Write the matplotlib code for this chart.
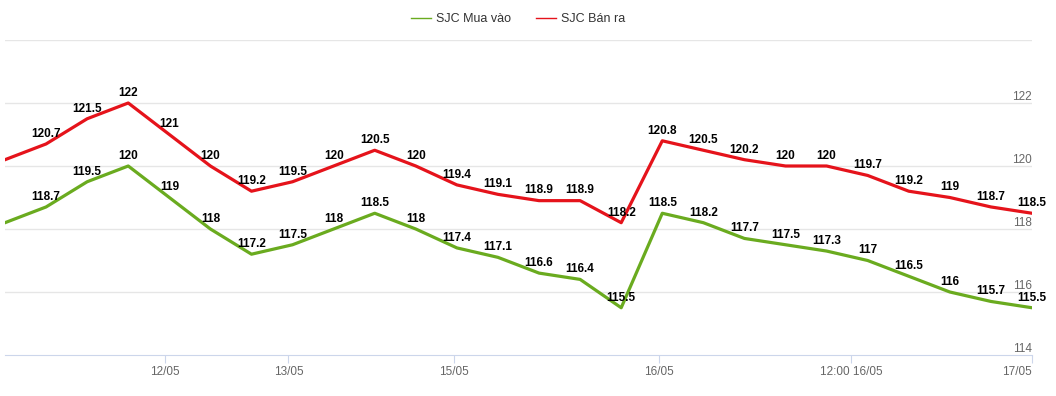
import matplotlib
matplotlib.use("Agg")
from matplotlib import pyplot as plt
from matplotlib.transforms import blended_transform_factory

plt.rcParams['font.family'] = ['Liberation Sans', 'DejaVu Sans']

# giá vàng SJC (triệu đồng/lượng)
mua_vao = [118.2, 118.7, 119.5, 120, 119, 118, 117.2, 117.5, 118, 118.5, 118, 117.4, 117.1,
           116.6, 116.4, 115.5, 118.5, 118.2, 117.7, 117.5, 117.3, 117, 116.5, 116, 115.7, 115.5]
ban_ra = [120.2, 120.7, 121.5, 122, 121, 120, 119.2, 119.5, 120, 120.5, 120, 119.4, 119.1,
          118.9, 118.9, 118.2, 120.8, 120.5, 120.2, 120, 120, 119.7, 119.2, 119, 118.7, 118.5]
tick_pos = [3.9, 6.9, 10.93, 15.92, 20.6, 25]
tick_labels = ["12/05", "13/05", "15/05", "16/05", "12:00 16/05", "17/05"]
y_ticks = [114, 116, 118, 120, 122]

x = list(range(len(mua_vao)))

fig = plt.figure(figsize=(10.56, 3.96), dpi=100)
ax = fig.add_axes([5 / 1056, 1 - 355 / 396, 1027 / 1056, 315 / 396])

green = '#6aab1f'
red = '#e5131b'
ax.plot(x, mua_vao, color=green, lw=2.3, label="SJC Mua vào", solid_joinstyle='round')
ax.plot(x, ban_ra, color=red, lw=2.3, label="SJC Bán ra", solid_joinstyle='round')

# nhãn số liệu
for i in x:
    if i == 0:
        continue
    ax.annotate(f"{mua_vao[i]:g}", (i, mua_vao[i]), xytext=(0, 3), textcoords='offset points',
                ha='center', va='bottom', fontsize=8.5, fontweight='bold', color='black')
    ax.annotate(f"{ban_ra[i]:g}", (i, ban_ra[i]), xytext=(0, 3), textcoords='offset points',
                ha='center', va='bottom', fontsize=8.5, fontweight='bold', color='black')

ax.set_xlim(0, 25)
ax.set_ylim(114, 124)

for v in y_ticks[1:] + [124]:
    ax.axhline(v, color='#e6e6e6', lw=1, zorder=0)
trans = blended_transform_factory(ax.transAxes, ax.transData)
for v in y_ticks:
    ax.text(1.0, v, str(v), transform=trans, ha='right', va='bottom', fontsize=8.5, color='#666666')

ax.set_yticks([])
for s in ['left', 'right', 'top']:
    ax.spines[s].set_visible(False)
ax.spines['bottom'].set_color('#ccd6eb')
ax.set_xticks(tick_pos)
ax.set_xticklabels(tick_labels, fontsize=8.5, color='#666666')
ax.tick_params(axis='x', length=6, color='#ccd6eb', pad=2)
ax.get_xticklabels()[-1].set_ha('right')

ax.legend(loc='center', bbox_to_anchor=(0.5, 1.0 + 21 / 315), ncol=2, frameon=False,
          fontsize=9, handlelength=1.6, handletextpad=0.4, columnspacing=2.0, labelcolor='#333333',
          borderaxespad=0)
for line in ax.get_legend().get_lines():
    line.set_linewidth(1)

fig.savefig("out.png", dpi=100)
